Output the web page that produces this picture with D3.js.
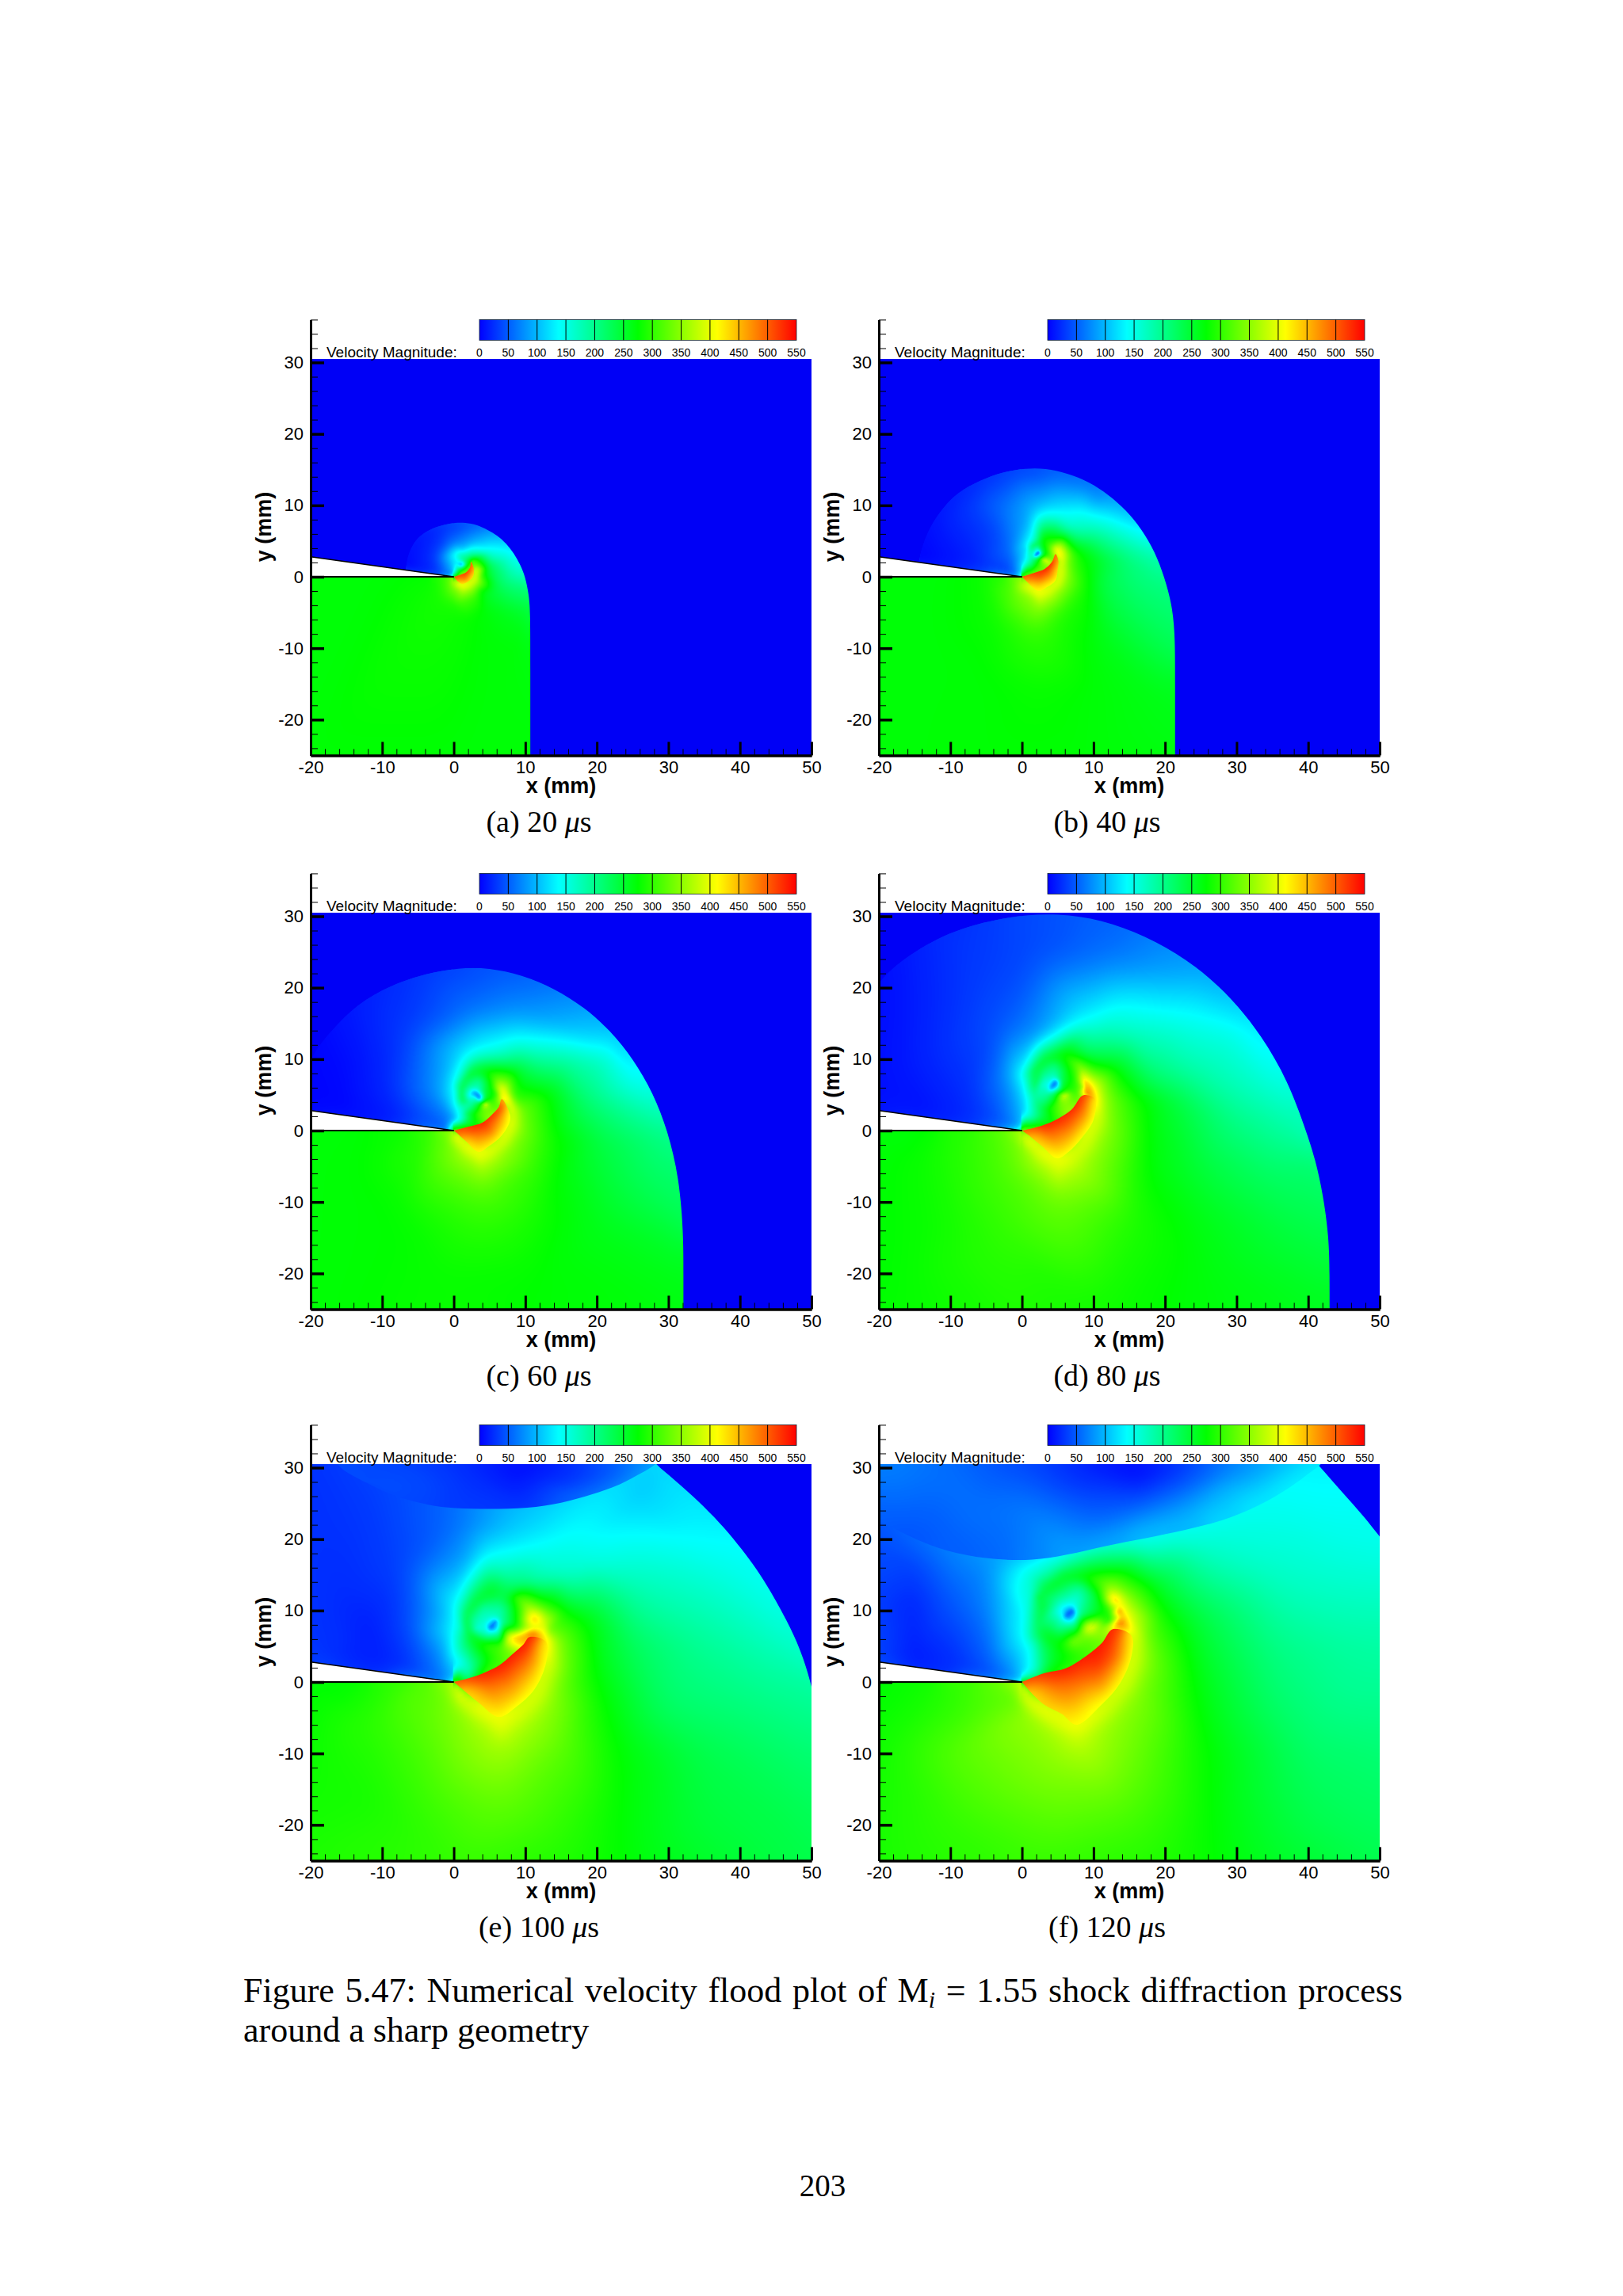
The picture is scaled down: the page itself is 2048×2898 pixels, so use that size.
<!DOCTYPE html>
<html>
<head>
<meta charset="utf-8">
<script src="https://cdnjs.cloudflare.com/ajax/libs/d3/7.8.5/d3.min.js"></script>
<style>
  html, body { margin: 0; padding: 0; background: #fff; }
  svg { display: block; }
  .tecplot text { font-family: "Liberation Sans", Arial, sans-serif; fill: #000; }
  .latex { font-family: "Liberation Serif", "Times New Roman", serif; fill: #000; }
</style>
</head>
<body>
<div id="chart"></div>
<script>
// velocity readings: [x mm, y mm, m/s]
const captions = ['(a) 20 ', '(b) 40 ', '(c) 60 ', '(d) 80 ', '(e) 100 ', '(f) 120 ']
const xMajor = [-20, -10, 0, 10, 20, 30, 40, 50]
const yMajor = [-20, -10, 0, 10, 20, 30]
const xMinor = [-18, -16, -14, -12, -8, -6, -4, -2, 2, 4, 6, 8, 12, 14, 16, 18, 22, 24, 26, 28, 32, 34, 36, 38, 42, 44, 46, 48]
const yMinor = [-24, -22, -18, -16, -14, -12, -8, -6, -4, -2, 2, 4, 6, 8, 12, 14, 16, 18, 22, 24, 26, 28, 32, 34, 36]
const barTicks = [0, 50, 100, 150, 200, 250, 300, 350, 400, 450, 500, 550]
const rainbowStops = [0, 137.5, 275, 412.5, 550]
const rainbowColors = ['#0000ff', '#00ffff', '#00ff00', '#ffff00', '#ff0000']
const wedge = [[-20, 0], [0, 0], [-20, 2.8]]
const aboveWedge = [[-22, 3.08], [-0.1, 0.01], [-0.1, 33], [-22, 33]]
const underWedge = [[-22, 0], [-0.1, 0], [-0.1, -27], [-22, -27]]

// shock fronts
const frontA = [[10.7, -27], [10.7, -12], [10.7, -5], [10.5, -2.5], [10, 0], [9.3, 1.7], [8.4, 3.3], [7.3, 4.7], [6.1, 5.8], [4.7, 6.6], [3.2, 7.3], [1.6, 7.6], [0.2, 7.6], [-1.3, 7.3], [-3, 6.8], [-4.5, 5.9], [-5.6, 4.8], [-6.3, 3.2], [-6.6, 2], [-6.7, 0.5]]
const frontB = [[21.4, -27], [21.4, -14], [21.4, -9], [21.1, -4.4], [19.9, 0], [18.6, 3.5], [16.7, 6.7], [14.6, 9.3], [12.1, 11.5], [9.4, 13.3], [6.3, 14.5], [3.3, 15.2], [0.5, 15.2], [-2.6, 14.7], [-5.9, 13.5], [-9, 11.8], [-11.1, 9.6], [-12.6, 7.4], [-13.7, 5], [-14.3, 2.8], [-14.6, 0.5]]
const frontC = [[32.1, -27], [32.1, -20], [32.1, -14.4], [31.5, -6.6], [29.9, 0], [27.9, 5.2], [25.1, 10], [21.9, 14], [18.2, 17.3], [14.1, 19.9], [9.5, 21.8], [4.9, 22.8], [0.7, 22.8], [-3.9, 22], [-8.9, 20.3], [-13.5, 17.7], [-16.7, 14.4], [-18.6, 12.2], [-20, 10], [-22, 6]]
const frontD = [[43, -27], [43, -20], [42.9, -15], [42.1, -9], [41, -4], [39.7, 0], [37.2, 6.9], [33.5, 13.3], [29.2, 18.7], [24.3, 23.1], [18.8, 26.5], [12.7, 29.1], [6.5, 30.3], [0.9, 30.3], [-5.2, 29.3], [-11.9, 27.1], [-18, 23], [-20, 20.6], [-22, 18]]
const frontE = [[51, -5], [49.9, 0], [48.5, 4.5], [46.5, 8.7], [44.3, 12.7], [41.8, 16.7], [36.5, 23.3], [30.3, 28.8], [28.3, 30.4], [26, 33]]
const frontF = [[52, 18], [50, 20.3], [47.8, 23.2], [44.8, 26.5], [41.6, 30.2], [39, 33]]
const closeA = [[-22, 0.5], [-22, -27]]
const closeF = [[-22, 33], [-22, -27], [52, -27]]

// reflected wave off the top wall
const arcE = [[-18, 33], [-16.3, 30.4], [-15, 29.3], [-12, 27.8], [-8.5, 26], [-3.4, 24.7], [0, 24.3], [4.9, 24.2], [10.4, 24.3], [15, 25], [19.6, 26.3], [23.3, 27.6], [26.5, 29.4], [28.3, 30.4], [31, 33]]
const arcF = [[-22, 23.4], [-20, 22.5], [-18.8, 22], [-14.2, 19.6], [-9.2, 17.9], [-3.6, 17.1], [1.5, 17], [6.1, 17.7], [11.7, 19.1], [17.3, 20.1], [22.9, 21.3], [28, 22.5], [33.1, 24.6], [37.7, 27.3], [40.7, 29.7], [41.6, 30.2], [44, 33]]

// high speed fans under the shear layer
const fanPolyA = [[0, 0], [1, 0.3], [1.8, 0.7], [2.3, 1.4], [2.4, 2.1], [2.8, 1.2], [2.7, 0], [2, -0.7], [1.2, -1], [0.5, -0.6]]
const fanPolyB = [[0, 0], [1.9, 0.6], [3.2, 1.1], [4.2, 2.1], [4.7, 3.2], [5.1, 2.2], [5, 1], [4.7, -0.5], [3.6, -1.4], [2.3, -2], [1, -1]]
const fanPolyC = [[0, 0], [2.1, 0.55], [4, 1.1], [5.3, 2.2], [6.3, 3.3], [6.7, 4.4], [7.6, 3], [7.9, 1.5], [6.7, -0.7], [4.9, -2.2], [3.5, -3], [1.7, -1.5], [0.5, -0.4]]
const fanPolyD = [[0, 0], [2.8, 0.7], [5.1, 1.7], [7, 3], [8.3, 4.8], [8.9, 5], [10.2, 4.4], [10, 1.5], [8.3, -1.1], [6.5, -3], [4.9, -3.9], [2.8, -2.2], [1, -0.7]]
const fanPolyE = [[0, 0], [3, 0.8], [6.3, 2.3], [8.1, 3.8], [9.7, 5.2], [10.6, 6.3], [12.9, 5.6], [12.9, 2.7], [11.3, -1], [8.6, -3.6], [6.3, -4.9], [3.5, -2.9], [1.2, -1]]
const fanPolyF = [[0, 0], [3, 1.2], [6.1, 1.9], [9.2, 3.8], [11.2, 5.5], [12.7, 7.4], [15.3, 6.5], [15.3, 3.6], [13.7, -0.2], [11.2, -3.1], [7.6, -6], [5.6, -4.5], [3, -3.1], [1, -1.2]]

const fanA = [[-1, 0, 520], [1, 0.6, 530], [2, 1.2, 530], [3, 2.6, 470], [1.5, -0.2, 490], [3.2, 0.5, 400], [2.4, -1, 400], [0.8, -1.3, 400]]
const fanB = [[-1, 0.2, 520], [1.9, 0.7, 535], [3.2, 1.3, 535], [4.2, 2.3, 530], [4.8, 3.5, 480], [2.4, -0.3, 490], [3.8, 0.5, 490], [2.3, -1.4, 430], [5.4, 1.5, 410], [4.8, -0.8, 400], [2.2, -2.4, 410], [0.6, -1.4, 410]]
const fanC = [[-1, 0.2, 520], [2.1, 0.7, 535], [4, 1.3, 535], [5.3, 2.4, 530], [6.4, 3.6, 520], [6.9, 4.7, 450], [3.2, -0.5, 490], [5, 0, 490], [3.5, -2.4, 430], [6.3, 1.2, 465], [8.1, 3, 400], [8.1, 1.3, 395], [6.8, -1, 400], [4.9, -2.4, 410], [3.4, -3.4, 410], [1.5, -1.8, 420]]
const fanD = [[-1, 0.2, 520], [2.8, 0.9, 535], [5.1, 1.9, 535], [7, 3.2, 530], [8.3, 5, 530], [9.2, 5.6, 500], [4, -0.6, 490], [6.5, 0.5, 490], [5, -3, 430], [8.6, 2.5, 480], [10.4, 4.2, 410], [10.2, 1.5, 400], [8.4, -1.4, 400], [6.6, -3.2, 405], [4.9, -4.2, 405], [2.7, -2.5, 420], [0.9, -1, 430]]
const fanE = [[-1, 0.2, 525], [3, 1, 535], [6.3, 2.5, 540], [8.1, 4, 540], [9.7, 5.4, 540], [10.8, 6.5, 530], [5, -0.6, 490], [7.5, 0.5, 495], [6.3, -4, 430], [10.5, 3.2, 490], [13.1, 5.6, 410], [13.1, 2.7, 400], [11.5, -1.2, 400], [8.7, -3.9, 400], [6.3, -5.2, 410], [3.4, -3.2, 425], [1, -1.3, 430], [8.5, -1.5, 450]]
const fanF = [[-1, 0.2, 525], [3, 1.4, 535], [6.1, 2.2, 540], [9.2, 4, 540], [11.2, 5.7, 540], [12.9, 7.6, 530], [5, -0.6, 490], [7.6, -0.2, 490], [7.1, -4, 440], [11.2, -0.2, 470], [13.2, 3.6, 490], [11, 2.5, 520], [15.5, 6.5, 410], [15.5, 3.6, 400], [13.9, -0.4, 400], [11.3, -3.4, 400], [7.6, -6.3, 410], [5.5, -4.8, 425], [2.8, -3.4, 430], [0.8, -1.5, 430]]

// yellow band hugging each fan, then the fall off to green
const haloA = [[3.1, 1.3, 400], [3, -0.1, 400], [2.2, -1, 400], [1.2, -1.4, 405], [0.3, -0.8, 410], [3.8, 0.8, 335], [3.6, -0.8, 340], [2.6, -1.8, 345], [1.2, -2.3, 355], [-0.2, -1.5, 335]]
const haloB = [[5.5, 2.4, 400], [5.5, 0.9, 400], [5.1, -0.8, 400], [3.8, -1.8, 400], [2.3, -2.5, 405], [0.8, -1.3, 410], [6.5, 2.3, 335], [6.5, 0, 340], [5.8, -1.6, 345], [4.3, -3, 355], [2.4, -3.6, 370], [0.7, -2.5, 350]]
const haloC = [[8.2, 3.2, 400], [8.4, 1.2, 400], [7.1, -1.1, 400], [5.2, -2.7, 400], [3.6, -3.5, 405], [1.4, -1.9, 410], [0.2, -0.7, 410], [9.4, 3, 335], [9.5, 0, 340], [8, -2.5, 345], [6, -4.4, 355], [3.7, -5, 370], [1.2, -3.8, 355], [-0.8, -1.8, 335]]
const haloD = [[10.7, 4.6, 400], [10.5, 1.3, 400], [8.8, -1.5, 400], [6.8, -3.5, 400], [5, -4.5, 405], [2.4, -2.6, 410], [0.6, -1, 410], [12, 4.5, 340], [12, 0.5, 345], [10.5, -3, 350], [8, -5.5, 365], [5, -6.5, 375], [2, -4.8, 360], [-0.3, -2.5, 340]]
const haloE = [[13.4, 5.8, 400], [13.5, 2.5, 400], [11.9, -1.4, 400], [9, -4.2, 400], [6.4, -5.6, 405], [3.1, -3.3, 410], [0.8, -1.4, 410], [15, 6, 335], [15, 2, 340], [13.6, -2.5, 350], [10.6, -6, 360], [6.5, -8, 380], [3, -6, 360], [0, -3.8, 345]]
const haloF = [[15.8, 6.6, 400], [15.9, 3.4, 400], [14.2, -0.5, 400], [11.6, -3.6, 400], [7.7, -6.7, 405], [5.2, -5, 410], [2.7, -3.5, 410], [0.6, -1.6, 410], [17.5, 7, 335], [17.6, 3, 340], [16, -1.5, 345], [13, -5.5, 350], [8, -9, 375], [4, -7, 365], [1, -5, 355], [-1, -2.6, 330]]

// main flow behind the front
const flowA = [
  [-22, -27, 272], [0, -27, 272], [12, -27, 272], [-22, 0, 272], [-10, 0, 272], [-4, 0, 275], [-1.5, 0, 300], [-0.5, -0.3, 340],
  [-2, -3, 285], [0, -4, 290], [1.2, -3.5, 310], [1.5, -6, 278], [3, -3, 300], [4, -2, 270], [6, -1.5, 235], [8, -1, 210], [10.5, -1, 200], [11.5, -1, 200],
  [4, -5, 272], [7, -5, 262], [10.7, -5, 248], [11.5, -6, 248], [5, -9, 272], [11, -10, 270],
  [-22, 3.1, 0], [-10, 1.4, 0], [-6.5, 0.95, 3], [-4, 0.6, 15], [-2, 0.3, 35], [-0.6, 0.1, 60],
  [-6.8, 2, 3], [-4.5, 5.5, 12], [-1.8, 7, 22], [1.5, 7.5, 35], [4.7, 6.8, 70], [7.4, 5, 110], [9.2, 1.8, 150], [10, -0.5, 185], [-22, 9, 0], [12, 9, 100], [12, 3, 150],
  [-3, 3, 25], [0, 5, 60], [1, 4, 100], [3, 5, 95], [5, 3.5, 150], [7, 2.5, 170], [8, 0, 190], [5, 1.5, 230], [4.2, 0.6, 275],
  [1.1, 1.7, 60], [1.1, 2.5, 190], [1.9, 1.9, 260], [1.6, 1.3, 300], [0.6, 1.2, 200], [0.3, 2, 130], [-0.3, 1.6, 100], [-0.2, 0.8, 90], [0.8, 3.2, 170], [2.2, 3, 200], [2.6, 2.2, 330], [3, 1.5, 340]
]
const flowB = [
  [-22, -27, 272], [-5, -27, 273], [10, -27, 272], [22, -27, 268], [-22, 0, 272], [-12, 0, 272], [-6, 0, 278], [-3, 0, 295], [-1, 0, 330], [-0.3, -0.2, 350],
  [-12, -8, 272], [-4, -2, 295], [-1.5, -2, 320], [2.3, -5, 340], [2, -8.7, 300], [2, -16, 278], [-4, -6, 280], [-5, -14, 273],
  [8.8, -1.3, 285], [11, -1.3, 240], [15.7, -1.3, 215], [20, -1, 205], [6, -5, 290], [11, -8.7, 265], [18, -8.7, 235], [21.5, -8.7, 225], [10, -16, 272], [18, -16, 265], [21.5, -16, 262], [21.5, -5, 215],
  [-22, 3.1, 0], [-15, 2.1, 0], [-10, 1.4, 8], [-6, 0.85, 18], [-3, 0.42, 30], [-1, 0.14, 50],
  [-14.5, 3, 2], [-13.4, 5, 5], [-11.5, 8.4, 12], [-8.8, 11.3, 18], [-5.5, 13.6, 25], [-1.8, 14.7, 32], [1.4, 15.2, 38], [4.6, 14.9, 45], [8.3, 13.7, 55], [12, 11.7, 75], [15.7, 8.4, 105], [18.4, 4.7, 145], [20, -0.5, 200], [-22, 16, 0], [22, 16, 100], [22, 3, 190],
  [8.3, 9.1, 140], [1.9, 9.9, 100], [-2.7, 9.9, 60], [-7.3, 9.9, 30], [-12, 6.1, 10], [1.9, 14.3, 45], [11, 11.3, 70], [15.7, 7.6, 125], [11, 6.1, 185], [6.5, 6.9, 170], [18, 3.9, 170], [15.7, 2.4, 205], [11, 2.4, 250], [7.4, 3.2, 290], [-0.4, 6.1, 80], [0.5, 3.9, 120], [-7.3, 2.4, 15], [-1.8, 1, 40], [5, 9, 135], [-2, 4, 55], [-4, 6, 35],
  [2.1, 3.3, 40], [1.9, 3.1, 60], [2.3, 3.5, 60], [1.6, 3.2, 150], [2.1, 4, 170], [2.8, 3.6, 240], [2.8, 2.9, 260], [2.2, 2.6, 250], [1.4, 2.6, 190], [1, 3.3, 170], [1.4, 4.4, 220], [2.5, 4.8, 250], [3.5, 4.4, 300], [3.8, 3, 300], [3, 2.4, 400], [2.4, 1.9, 300], [1.4, 1.6, 230], [0.6, 2, 150], [0.3, 3.2, 115], [0.6, 4.5, 130], [1.5, 5.4, 150], [3, 5.6, 270], [4.4, 5, 300], [5, 3.8, 430], [5.2, 3, 430]
]
const flowC = [
  [-22, -27, 272], [0, -27, 280], [15, -27, 272], [33, -27, 268], [-22, 0, 272], [-15, 0, 272], [-8, 0, 280], [-4, 0, 300], [-1, 0, 340], [-0.3, -0.2, 360],
  [-7, -1.5, 285], [-4.8, -3.3, 295], [4, -6.2, 350], [4, -8.9, 320], [-2.5, -5.2, 320], [11.3, -5.2, 300], [15.9, -5.2, 265], [22.8, -7, 240], [29.7, -8.9, 225], [32.5, -10.7, 225], [11.3, -12.5, 285], [4, -12.5, 300], [-7, -12.5, 275], [20.5, -12.5, 260], [29.7, -16, 255], [11.3, -20, 275], [-2.5, -20, 278], [25, -22, 270], [32.5, -20, 262], [-14, -6, 273],
  [13.1, -1.5, 290], [20.5, -1.5, 240], [29.7, -1.5, 205], [25, 2.2, 195], [18.2, 3.7, 220], [13.6, 5.2, 270], [8.6, 4.8, 300], [7.6, 6.6, 340], [12.2, 8.9, 210], [15.9, 9.6, 190], [20.5, 9.6, 170], [25, 7.7, 140], [9, 8.9, 240], [9, 12.9, 140], [4.9, 11, 150], [2.1, 11, 130], [18.2, 13.3, 115], [22.8, 11.4, 125], [2.1, 17, 60], [-7, 13.3, 30], [-14, 9.6, 8], [-16, 6, 3], [-9.4, 5.9, 20], [-2.5, 5.9, 80], [-0.2, 6.6, 130], [14, 15, 95], [8, 17, 75],
  [-22, 3.1, 0], [-15, 2.1, 2], [-10, 1.4, 10], [-6, 0.85, 22], [-3, 0.42, 40], [-1, 0.14, 60],
  [-18.6, 12.2, 3], [-16.7, 14.4, 8], [-13.5, 17.7, 15], [-8.9, 20.3, 22], [-3.9, 22, 30], [0.7, 22.6, 36], [4.9, 22.6, 42], [9.5, 21.8, 50], [14.1, 19.9, 65], [18.2, 17.3, 85], [21.9, 14, 105], [25.1, 10, 125], [27.9, 5.2, 155], [29.9, 0, 195], [31.5, -6.6, 222], [-22, 24, 0], [33, 24, 100], [33, 3, 180],
  [3.3, 4.9, 40], [3, 5.2, 60], [3.6, 4.6, 60], [2.8, 4.9, 140], [3.3, 5.8, 165], [4.3, 5.2, 240], [4.3, 4.2, 270], [3.3, 3.8, 240], [2.4, 3.8, 185], [1.9, 4.9, 150], [2.2, 6.2, 190], [3.5, 7.1, 200], [5, 6.8, 270], [5.8, 5.2, 290], [5.5, 4, 300], [4.6, 3.6, 430], [4, 2.8, 330], [3.2, 2.3, 300], [2, 2.3, 240], [1.2, 3.2, 170], [1.1, 4.6, 240], [1.1, 6.4, 240], [0, 5.5, 135], [2.1, 8, 250], [4.2, 8.4, 270], [6, 7.4, 330], [6.7, 5.5, 430], [7.1, 4.6, 450], [0.1, 3.2, 125], [-0.5, 1.5, 70], [1, 1.4, 150], [2.3, 1.3, 240]
]
const flowD = [
  [-22, -27, 275], [0, -27, 290], [25, -27, 270], [44, -27, 258], [-22, 0, 270], [-15, 0, 272], [-8, 0, 295], [-4, 0, 315], [-1, 0, 345], [-0.3, -0.2, 370],
  [5.1, -8.5, 350], [5.1, -10.7, 330], [-2.7, -5.2, 315], [-7.3, -1.5, 300], [-14.2, -5.2, 280], [-18, -1.5, 270], [15.5, -5.2, 295], [18, -5.2, 270], [25, -5.2, 245], [34, -5.2, 220], [40.6, -5.2, 215], [18, -0.7, 270], [29.5, -3.3, 225], [38.8, -3.3, 205], [15.7, -12.5, 290], [6.5, -14.4, 320], [-2.7, -14.4, 300], [-12, -12.5, 280], [25, -12.5, 265], [38.8, -14.4, 240], [43.2, -16, 240], [25, -20, 270], [1.9, -20, 290], [-18, -22, 275], [43.2, -24, 258], [11, -24, 285],
  [13.4, 17.3, 140], [8.8, 15.9, 130], [1.9, 13.3, 80], [-2.7, 15.1, 45], [-7.3, 20.7, 30], [1.9, 24.4, 40], [11, 24.4, 60], [20.3, 22.5, 85], [27.2, 18.8, 110], [33, 14, 130], [29.5, 13.3, 150], [22.6, 15.1, 150], [20.3, 11.4, 180], [15.7, 13.3, 175], [11, 13.3, 185], [8.8, 10.7, 230], [13.4, 8.9, 265], [18, 8.1, 215], [25, 7.7, 185], [34, 5.9, 165], [37.8, 2.2, 175], [29.5, 2.2, 200], [20.3, 4, 250], [15.7, 4, 290], [-0.4, 7.7, 130], [-2.7, 7.7, 70], [-7.3, 5.9, 25], [-14.2, 4, 10], [-16.5, 9.6, 12], [-18.4, 17, 8],
  [-22, 3.1, 5], [-15, 2.1, 8], [-10, 1.4, 15], [-6, 0.85, 28], [-3, 0.42, 45], [-1, 0.14, 70],
  [-20, 20.3, 5], [-15.2, 24.7, 15], [-10.5, 27.1, 25], [-5.5, 29, 30], [-0.9, 29.9, 38], [3.7, 30.2, 42], [8.3, 29.9, 48], [13.9, 28.8, 55], [18.5, 27, 70], [24.3, 23.1, 85], [29.2, 18.7, 105], [33.5, 13.3, 125], [37.2, 6.9, 150], [39.7, 0, 175], [41, -4, 205], [42.1, -9, 225], [-22, 33, 5], [44, 33, 100], [44, 3, 180],
  [4.4, 6.5, 40], [4.1, 6.2, 55], [4.7, 6.9, 55], [3.8, 6.5, 140], [4.4, 7.5, 165], [5.5, 7, 230], [5.6, 5.6, 270], [4.5, 5.2, 230], [3.4, 5.2, 185], [2.8, 6.5, 160], [3, 8, 200], [4.5, 9.2, 210], [6.6, 8.8, 280], [7.6, 7, 300], [7.6, 5.4, 300], [6, 4.8, 440], [5.2, 3.7, 340], [4, 3, 290], [2.6, 3, 230], [1.6, 4.6, 190], [1.6, 6.6, 240], [0.3, 7, 140], [1.8, 8.6, 250], [3.4, 10.2, 255], [6, 10.6, 290], [8, 9.4, 340], [8.8, 6.8, 460], [8.4, 6.2, 350], [9, 5.5, 500], [10.2, 6.4, 390], [0.5, 4.5, 125], [0, 2.5, 100], [1.2, 1.8, 170], [3.2, 1.7, 240]
]
const flowE = [
  [-22, -27, 290], [0, -27, 300], [25, -27, 272], [52, -27, 235], [-22, 0, 270], [-15, 0, 275], [-8, 0, 300], [-4, 0, 320], [-1, 0, 350], [-0.3, -0.2, 375],
  [-16.3, -5.5, 290], [-10.8, -5.5, 300], [-2.5, -5.5, 330], [6.7, -9.2, 365], [6.7, -16.5, 330], [-2.5, -16.5, 310], [-11.7, -16.5, 285], [-18, -16.5, 285], [15.9, -9.2, 320], [22.8, -9.2, 275], [34.3, -9.2, 235], [48, -9.2, 215], [22.8, -20, 275], [34.3, -20, 245], [48, -20, 235], [11.3, -20, 310], [-2.5, -22, 300], [-18, -22, 290], [-16.3, -1.8, 275], [-7, -1.8, 315], [20.5, -3.6, 280], [29.7, -3.6, 220], [43.5, -1.8, 200], [48, 0, 190], [52, 0, 185], [52, -10, 212], [17.5, 0, 300],
  [43.5, 5.6, 175], [34.3, 5.6, 195], [25, 5.6, 225], [20.5, 3.8, 260], [18.2, 8.6, 275], [15.9, 10, 270], [25, 13, 180], [34.3, 14.8, 160], [38.9, 16.7, 145], [34.3, 20.4, 135], [32, 25.9, 125], [27.4, 29.2, 110], [25, 25.9, 110], [20.5, 22.2, 130], [15.9, 20.4, 140], [9, 21.5, 110], [2.1, 22.2, 70], [4.4, 18.5, 125], [11.3, 18.5, 145], [20.5, 16.7, 155], [15.9, 14.8, 170], [11.3, 14.1, 190], [8.5, 13, 220], [2.1, 16.7, 95], [-2.5, 20.4, 50], [-11.7, 24, 30], [-18.6, 20.4, 25], [-7, 16.7, 35], [-16.3, 13, 22], [-11.7, 7.5, 15], [-16.3, 5.6, 25], [-7, 7.5, 35], [-2.5, 9.3, 85], [0.3, 11.1, 135], [-0.6, 7.5, 125], [0.7, 2.7, 130], [-1.6, 1.9, 70], [-7, 2.3, 25],
  [-22, 3.1, 30], [-15, 2.1, 20], [-10, 1.4, 18], [-6, 0.85, 30], [-3, 0.42, 50], [-1, 0.14, 75],
  [-22, 33, 25], [0, 33, 55], [25, 33, 115], [52, 33, 100], [52, 6, 170], [46, 10, 150], [50, 3, 170],
  [5.4, 8.1, 40], [5, 7.7, 55], [5.8, 8.5, 55], [4.4, 8, 150], [5.6, 9.2, 165], [6.7, 8.3, 190], [6.2, 7, 170], [4.8, 6.8, 165], [6.7, 10.4, 190], [8.6, 9.3, 270], [9, 7.5, 290], [7.9, 6.2, 450], [6.7, 4.9, 320], [4.9, 5.2, 300], [3.5, 5.6, 280], [3, 7.5, 165], [2.8, 8.6, 185], [4, 10.4, 190], [2, 7, 245], [2.7, 11, 250], [5, 12.7, 265], [6.3, 11.5, 220], [8.6, 11.7, 290], [0.6, 7.8, 150], [1.6, 9.3, 240], [1.4, 5.4, 210], [2.6, 2.7, 200], [4.9, 3.2, 280], [8.6, 12.3, 300], [10.4, 10.4, 370], [11.3, 8.6, 470], [11.3, 7.7, 380], [11.3, 6.9, 530], [12.2, 6.3, 450], [12.5, 8.6, 390], [13.6, 7.5, 330], [12.7, 10.8, 300], [1.8, 1, 170]
]
const flowF = [
  [-22, -27, 285], [0, -27, 300], [25, -27, 280], [52, -27, 235], [-22, 0, 270], [-15, 0, 280], [-8, 0, 305], [-4, 0, 325], [-1, 0, 355], [-0.3, -0.2, 380],
  [-10, -10, 320], [-18, -10, 290], [5, -11.5, 350], [15, -10, 335], [25, -10, 280], [40, -10, 220], [50, -10, 215], [-10, -20, 300], [5, -20, 320], [15, -20, 310], [25, -20, 280], [40, -20, 235], [50, -20, 225], [25, -1, 265], [35, -1, 215], [45, -1, 195], [52, -1, 195], [-8, -4, 305], [-15, -4, 285],
  [20, 9, 280], [25, 9, 240], [15.3, 16.5, 240], [18.8, 14, 250], [36, 14, 170], [25, 19, 165], [46, 19, 150], [46, 4.5, 190], [35, 5, 205], [52, 8, 180], [52, 18, 150], [30, 22.5, 150], [40, 28, 135], [40, 33, 130], [52, 33, 130], [22.9, 21.3, 140], [17.3, 20.1, 140], [11.7, 20, 140], [5, 19, 110], [2.5, 17.5, 130], [-3.6, 17.2, 85],
  [-20, 11.2, 30], [-15.3, 11.2, 20], [-10.2, 11.2, 45], [-5, 11.2, 70], [-1, 11.2, 125], [-0.2, 12.2, 150], [-15.3, 16.5, 35], [-5, 15.5, 75], [-20, 18, 42], [-20, 4.5, 35], [-15, 4.5, 15], [-10, 4.5, 25], [-5, 3.6, 50], [-1.5, 1.7, 80], [1.5, 4.5, 150], [0.2, 6.5, 140], [-10, 17, 65], [-22, 24, 45], [5, 16.2, 180], [10, 16, 250], [1.5, 14.8, 165],
  [-22, 3.1, 40], [-15, 2.1, 15], [-10, 1.4, 22], [-6, 0.85, 35], [-3, 0.42, 55], [-1, 0.14, 80],
  [6.6, 9.7, 40], [6.1, 9.3, 50], [7.1, 10.1, 50], [6.1, 10.2, 110], [7.2, 9.1, 120], [5.6, 9.4, 140], [7, 10.9, 140], [8, 9.5, 195], [7.2, 8.2, 180], [5.8, 8.3, 170], [4.2, 9.8, 175], [5, 11.6, 190], [8.1, 13.2, 190], [10.2, 12, 240], [10.9, 9.5, 270], [9.4, 7.4, 450], [8.4, 7, 340], [7.1, 5.5, 350], [5.3, 5.5, 280], [3.4, 6.5, 265], [2.6, 10, 250], [3.4, 13, 255], [6, 15, 270], [9, 14.8, 290], [12, 13.6, 350], [13, 11.7, 470], [13.6, 10.9, 410], [13.5, 10, 480], [13.9, 9.2, 430], [13.5, 8.4, 510], [12.2, 10, 300], [12.3, 8.6, 280], [14.8, 9.5, 400], [15, 11.5, 350], [2.2, 7.5, 230], [0.4, 9, 140], [2.2, 12, 245], [1.2, 6, 175], [1, 12.5, 150], [2.4, 4, 200], [4, 2.7, 250], [7, 3.6, 280], [10.2, 6.3, 320], [1.5, 1.4, 150]
]

// the darker pocket over the reflected wave
const upperE = [
  [-22, 33, 38], [-16.3, 29.6, 42], [-7, 28.9, 45], [2.1, 28.5, 25], [9, 29.6, 5], [15.9, 29.2, 15], [22.8, 29.6, 45], [27, 30, 85], [15.9, 26.3, 50], [6.7, 25.2, 28], [0, 25.2, 30], [-11.7, 27.8, 38], [-4, 24.5, 35], [10, 24, 30], [15, 24.8, 50], [20, 26, 68], [24, 27.5, 80], [28, 30, 95], [32, 33, 100], [9, 33, 3]
]
const upperF = [
  [-22, 33, 70], [-20, 30, 70], [-10, 30, 62], [0, 30, 40], [8, 30, 15], [16, 29, 5], [24, 30, 30], [32, 30, 80], [38, 30, 115], [42, 30, 130], [46, 33, 135], [16, 33, 5],
  [-22, 24, 50], [-15, 21, 45], [-10, 19, 50], [-3.5, 18, 55], [0, 25, 65], [1.5, 18, 70], [6, 19, 85], [10, 22, 60], [12, 20, 90], [17, 21.5, 100], [16, 25, 45], [23, 23, 100], [28, 28, 85], [28, 23.5, 115], [33, 25.5, 125], [38, 28, 130], [-8, 25, 60]
]

const panels = [
  { col: 0, row: 0, front: frontA, close: closeA, flow: flowA.concat(haloA), fanPoly: fanPolyA, fan: fanA },
  { col: 1, row: 0, front: frontB, close: closeA, flow: flowB.concat(haloB), fanPoly: fanPolyB, fan: fanB },
  { col: 0, row: 1, front: frontC, close: closeA, flow: flowC.concat(haloC), fanPoly: fanPolyC, fan: fanC },
  { col: 1, row: 1, front: frontD, close: closeA, flow: flowD.concat(haloD), fanPoly: fanPolyD, fan: fanD },
  { col: 0, row: 2, front: frontE, close: closeF, flow: flowE.concat(haloE), fanPoly: fanPolyE, fan: fanE, arc: arcE, upper: upperE },
  { col: 1, row: 2, front: frontF, close: closeF, flow: flowF.concat(haloF), fanPoly: fanPolyF, fan: fanF, arc: arcF, upper: upperF }
]

const colLeft = [392, 1109]
const rowZero = [728, 1427, 2123]
const plotWidth = 632
const plotHeight = 550

const svg = d3.select('#chart').append('svg')
  .attr('width', 2048).attr('height', 2898)
  .style('background', '#fff')

const x = d3.scaleLinear().domain([-20, 50]).range([0, plotWidth])
const y = d3.scaleLinear().domain([-25, 36]).range([plotHeight, 0])
const color = d3.scaleLinear().domain(rainbowStops).range(rainbowColors)
const lut = d3.range(0, 551).map(v => d3.rgb(color(v)))
const curve = d3.line().x(d => x(d[0])).y(d => y(d[1])).curve(d3.curveCatmullRom.alpha(0.5))
const waveCurve = d3.line().x(d => x(d[0])).y(d => y(d[1])).curve(d3.curveBasis)
const straight = d3.line().x(d => x(d[0])).y(d => y(d[1]))

const pad = 20
const plotTop = y(30.5)
const W = plotWidth + 2 * pad
const H = Math.ceil(plotHeight - plotTop) + 2 * pad

// box filter whose radius follows how far apart the readings are
const boxPass = (field, radius) => {
  const sum = new Float64Array((W + 1) * (H + 1))
  for (let j = 0; j < H; j++) {
    let row = 0
    for (let i = 0; i < W; i++) {
      row += field[j * W + i]
      sum[(j + 1) * (W + 1) + i + 1] = sum[j * (W + 1) + i + 1] + row
    }
  }
  const out = new Float32Array(W * H)
  for (let j = 0; j < H; j++) {
    for (let i = 0; i < W; i++) {
      const r = radius[j * W + i]
      const i0 = Math.max(0, Math.round(i - r)), i1 = Math.min(W, Math.round(i + r) + 1)
      const j0 = Math.max(0, Math.round(j - r)), j1 = Math.min(H, Math.round(j + r) + 1)
      out[j * W + i] = (sum[j1 * (W + 1) + i1] - sum[j0 * (W + 1) + i1] - sum[j1 * (W + 1) + i0] + sum[j0 * (W + 1) + i0]) / ((i1 - i0) * (j1 - j0))
    }
  }
  return out
}

// flood one set of readings into an image, triangle by triangle
const fieldImage = samples => {
  const px = samples.map(d => x(d[0]) + pad)
  const py = samples.map(d => y(d[1]) - plotTop + pad)
  const delaunay = d3.Delaunay.from(samples, (d, i) => px[i], (d, i) => py[i])
  const spacing = samples.map((d, i) => d3.median([...delaunay.neighbors(i)].map(j => Math.hypot(px[i] - px[j], py[i] - py[j]))) || 1)
  let field = new Float32Array(W * H).fill(NaN)
  const radius = new Float32Array(W * H)
  const t = delaunay.triangles
  for (let k = 0; k < t.length; k += 3) {
    const [a, b, c] = [t[k], t[k + 1], t[k + 2]]
    const den = (py[b] - py[c]) * (px[a] - px[c]) + (px[c] - px[b]) * (py[a] - py[c])
    if (!den) continue
    const x0 = Math.max(0, Math.floor(Math.min(px[a], px[b], px[c])))
    const x1 = Math.min(W - 1, Math.ceil(Math.max(px[a], px[b], px[c])))
    const y0 = Math.max(0, Math.floor(Math.min(py[a], py[b], py[c])))
    const y1 = Math.min(H - 1, Math.ceil(Math.max(py[a], py[b], py[c])))
    for (let j = y0; j <= y1; j++) {
      for (let i = x0; i <= x1; i++) {
        const l1 = ((py[b] - py[c]) * (i - px[c]) + (px[c] - px[b]) * (j - py[c])) / den
        const l2 = ((py[c] - py[a]) * (i - px[c]) + (px[a] - px[c]) * (j - py[c])) / den
        const l3 = 1 - l1 - l2
        if (l1 < -0.001 || l2 < -0.001 || l3 < -0.001) continue
        field[j * W + i] = l1 * samples[a][2] + l2 * samples[b][2] + l3 * samples[c][2]
        radius[j * W + i] = Math.min(24, Math.max(1, 0.25 * (l1 * spacing[a] + l2 * spacing[b] + l3 * spacing[c])))
      }
    }
  }
  let hint = 0
  for (let n = 0; n < W * H; n++) {
    if (isNaN(field[n])) {
      hint = delaunay.find(n % W, Math.floor(n / W), hint)
      field[n] = samples[hint][2]
      radius[n] = Math.min(24, Math.max(1, 0.25 * spacing[hint]))
    }
  }
  field = boxPass(boxPass(field, radius), radius)

  const canvas = document.createElement('canvas')
  canvas.width = W
  canvas.height = H
  const ctx = canvas.getContext('2d')
  const img = ctx.createImageData(W, H)
  for (let n = 0; n < W * H; n++) {
    const c = lut[Math.max(0, Math.min(550, Math.round(field[n])))]
    img.data[n * 4] = c.r
    img.data[n * 4 + 1] = c.g
    img.data[n * 4 + 2] = c.b
    img.data[n * 4 + 3] = 255
  }
  ctx.putImageData(img, 0, 0)
  return canvas.toDataURL()
}

const defs = svg.append('defs')
const grad = defs.append('linearGradient').attr('id', 'rainbow')
rainbowStops.forEach((s, i) => {
  grad.append('stop').attr('offset', s / 550).attr('stop-color', rainbowColors[i])
})
defs.append('clipPath').attr('id', 'plotClip')
  .append('rect').attr('x', 0).attr('y', plotTop).attr('width', plotWidth).attr('height', plotHeight - plotTop)

const barScale = d3.scaleLinear().domain([0, 550]).range([213, 613])

panels.forEach((p, i) => {
  const g = svg.append('g').attr('class', 'tecplot')
    .attr('transform', `translate(${colLeft[p.col]},${rowZero[p.row] - y(0)})`)

  const plot = g.append('g').attr('clip-path', 'url(#plotClip)')
  plot.append('rect').attr('x', 0).attr('y', plotTop)
    .attr('width', plotWidth).attr('height', plotHeight - plotTop).attr('fill', '#0000f6')

  const layer = (parent, samples, pathD, id) => {
    defs.append('clipPath').attr('id', id).append('path').attr('d', pathD)
    const holder = parent.append('g').attr('clip-path', `url(#${id})`)
    holder.append('image')
      .attr('x', -pad).attr('y', plotTop - pad)
      .attr('width', W).attr('height', H)
      .attr('href', fieldImage(samples))
    return holder
  }

  // behind the front: open curve closed through the plot corners
  const bottomCorner = p.close === closeA ? [[p.front[0][0], -27]] : []
  const rest = p.close.concat(bottomCorner).map(d => `L${x(d[0])},${y(d[1])}`).join('')
  const behind = layer(plot, p.flow, waveCurve(p.front) + rest + 'Z', `flow${i}`)

  // no readings are shared across the wedge
  layer(behind, p.flow.filter(d => !(d[0] < 0 && d[1] <= 0)), straight(aboveWedge) + 'Z', `above${i}`)
  layer(behind, p.flow.filter(d => d[1] <= 0), straight(underWedge) + 'Z', `under${i}`)

  if (p.upper) {
    const top = `L${x(52)},${y(33)}L${x(-22)},${y(33)}`
    layer(plot, p.upper, waveCurve(p.arc) + top + 'Z', `upper${i}`)
  }
  layer(plot, p.fan, curve(p.fanPoly) + 'Z', `fan${i}`)

  plot.append('path').attr('d', straight(wedge) + 'Z').attr('fill', '#fff')
  plot.append('path').attr('d', straight(wedge.slice(1))).attr('fill', 'none').attr('stroke', '#000').attr('stroke-width', 1.6)
  plot.append('path').attr('d', straight(wedge.slice(0, 2))).attr('fill', 'none').attr('stroke', '#000').attr('stroke-width', 2)

  // axes, ticks stand inward like the tecplot frame
  const styleAxis = (a, w) => {
    a.selectAll('.domain').attr('stroke', '#000').attr('stroke-width', 3)
    a.selectAll('line').attr('stroke', '#000').attr('stroke-width', w)
  }
  g.append('g').attr('transform', `translate(0,${plotHeight})`)
    .call(d3.axisBottom(x).tickValues(xMinor).tickSize(-8).tickSizeOuter(0).tickFormat(''))
    .call(a => styleAxis(a, 1))
  g.append('g')
    .call(d3.axisLeft(y).tickValues(yMinor).tickSize(-9).tickSizeOuter(0).tickFormat(''))
    .call(a => styleAxis(a, 1))

  const xAxis = g.append('g').attr('transform', `translate(0,${plotHeight})`)
    .call(d3.axisBottom(x).tickValues(xMajor).tickSizeInner(-17).tickSizeOuter(0).tickPadding(7).tickFormat(String))
    .call(a => styleAxis(a, 3))
  xAxis.selectAll('text').attr('font-size', 22).attr('font-family', '"Liberation Sans"')
  const yAxis = g.append('g')
    .call(d3.axisLeft(y).tickValues(yMajor).tickSizeInner(-17).tickSizeOuter(0).tickPadding(9).tickFormat(String))
    .call(a => styleAxis(a, 3.5))
  yAxis.selectAll('text').attr('font-size', 22).attr('font-family', '"Liberation Sans"')

  g.append('text').attr('x', 316).attr('y', plotHeight + 48).attr('text-anchor', 'middle')
    .attr('font-size', 27).attr('font-weight', 'bold').text('x (mm)')
  g.append('text').attr('transform', `translate(-50,${y(0) - 63}) rotate(-90)`).attr('text-anchor', 'middle')
    .attr('font-size', 27).attr('font-weight', 'bold').text('y (mm)')

  // contour legend
  g.append('rect').attr('x', barScale(0)).attr('y', 0).attr('width', barScale(550) - barScale(0)).attr('height', 26)
    .attr('fill', 'url(#rainbow)').attr('stroke', '#123').attr('stroke-width', 0.8)
  g.selectAll('.sep').data(barTicks.slice(1, -1)).join('line').attr('class', 'sep')
    .attr('x1', d => barScale(d)).attr('x2', d => barScale(d))
    .attr('y1', 0).attr('y2', 26).attr('stroke', '#000').attr('stroke-width', 1)
  g.selectAll('.barLabel').data(barTicks).join('text').attr('class', 'barLabel')
    .attr('x', d => barScale(d)).attr('y', 47).attr('text-anchor', 'middle')
    .attr('font-size', 14).text(d => d)
  g.append('text').attr('x', 20).attr('y', 48).attr('font-size', 19).text('Velocity Magnitude:')

  // subfigure caption
  const cap = svg.append('text').attr('class', 'latex')
    .attr('x', colLeft[p.col] + 288).attr('y', rowZero[p.row] + 322)
    .attr('text-anchor', 'middle').attr('font-size', 38)
  cap.append('tspan').text(captions[i])
  cap.append('tspan').attr('font-style', 'italic').text('μ')
  cap.append('tspan').text('s')
})

// figure caption
const line1 = svg.append('text').attr('class', 'latex').attr('x', 307).attr('y', 2527).attr('font-size', 44)
line1.append('tspan').text('Figure 5.47: Numerical velocity flood plot of M')
line1.append('tspan').attr('font-size', 30).attr('font-style', 'italic').attr('dy', 7).text('i')
line1.append('tspan').attr('dy', -7).text(' = 1.55 shock diffraction process')
const used = line1.node().getComputedTextLength()
line1.attr('word-spacing', (1463 - used) / 12)

svg.append('text').attr('class', 'latex').attr('x', 307).attr('y', 2577).attr('font-size', 44)
  .text('around a sharp geometry')
svg.append('text').attr('class', 'latex').attr('x', 1038).attr('y', 2772).attr('text-anchor', 'middle')
  .attr('font-size', 39).text('203')
</script>
</body>
</html>
